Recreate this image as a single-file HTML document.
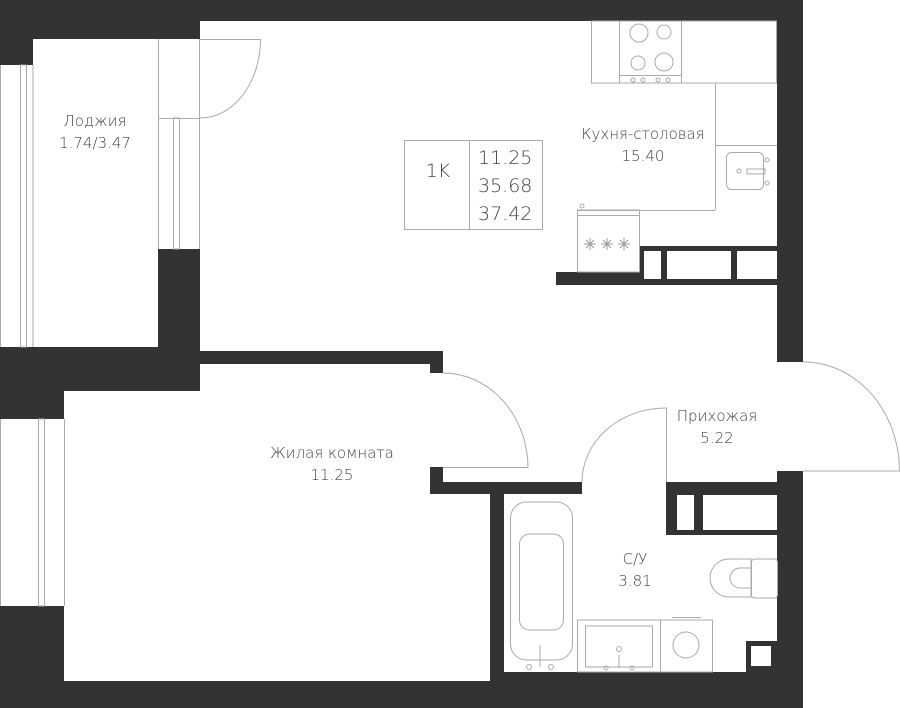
<!DOCTYPE html>
<html><head><meta charset="utf-8"><style>
html,body{margin:0;padding:0;background:#fff;}
svg{display:block;}
text{font-family:"DejaVu Sans","Liberation Sans",sans-serif;fill:#444;font-weight:300;}
</style></head><body>
<svg width="900" height="708" viewBox="0 0 900 708" xmlns="http://www.w3.org/2000/svg">
<g fill="#333">
<rect x="0" y="0" width="803" height="21"/>
<rect x="0" y="0" width="33" height="65"/>
<rect x="33" y="0" width="167" height="39"/>
<rect x="777" y="0" width="26" height="362"/>
<rect x="777" y="471" width="26" height="237"/>
<rect x="158" y="249" width="42" height="100"/>
<rect x="0" y="347" width="200" height="44"/>
<rect x="0" y="347" width="64" height="72"/>
<rect x="200" y="351" width="243" height="13"/>
<rect x="430" y="351" width="13" height="22"/>
<rect x="0" y="606" width="64" height="102"/>
<rect x="0" y="681" width="803" height="27"/>
<rect x="490" y="672" width="313" height="36"/>
<rect x="430" y="467" width="13" height="27"/>
<rect x="430" y="482" width="152" height="12"/>
<rect x="490" y="482" width="14" height="226"/>
<rect x="666" y="482" width="111" height="13"/>
<rect x="666" y="482" width="11" height="53"/>
<rect x="666" y="530" width="111" height="5"/>
<rect x="694" y="494" width="9" height="40"/>
<rect x="746" y="641" width="31" height="31"/>
<rect x="556" y="272" width="221" height="13"/>
<rect x="639" y="246" width="138" height="39"/>
</g>
<g fill="#fff">
<rect x="644" y="251" width="17" height="28"/>
<rect x="667" y="251" width="64" height="28"/>
<rect x="737" y="251" width="40" height="28"/>
<rect x="751" y="646" width="20" height="20"/>
</g>
<g fill="none" stroke="#aaa" stroke-width="1">
<line x1="0.5" y1="65" x2="0.5" y2="347"/>
<rect x="20.5" y="65" width="6" height="282"/>
<line x1="33" y1="65" x2="33" y2="347"/>
<rect x="173.5" y="118" width="6" height="131"/>
<line x1="158.5" y1="39" x2="158.5" y2="249"/>
<line x1="199.5" y1="39" x2="199.5" y2="249"/>
<line x1="158" y1="118.5" x2="200" y2="118.5"/>
<path d="M200 39.5 H260.5 A60 79 0 0 1 200 118"/>
<line x1="0.5" y1="419" x2="0.5" y2="606"/>
<rect x="38.5" y="419" width="6" height="187"/>
<line x1="64.5" y1="419" x2="64.5" y2="606"/>
<path d="M443 373 A85 95 0 0 1 528 467.5 H443"/>
<path d="M666.5 482 V408 A84 74 0 0 0 582 482"/>
<path d="M803 362 A96 109 0 0 1 899.5 471 H803"/>
<rect x="591.5" y="21" width="185" height="62"/>
<rect x="619.5" y="21" width="62" height="62"/>
<line x1="619" y1="75.5" x2="681" y2="75.5"/>
<circle cx="639" cy="33" r="9"/><circle cx="664" cy="32" r="7"/>
<circle cx="638" cy="63" r="7"/><circle cx="664" cy="62" r="9"/>
<circle cx="633" cy="80" r="2"/><circle cx="643" cy="80" r="2"/><circle cx="658" cy="80" r="2"/><circle cx="668" cy="80" r="2"/>
<line x1="715.5" y1="83" x2="715.5" y2="210"/>
<line x1="577" y1="210.5" x2="715" y2="210.5"/>
<line x1="715" y1="145.5" x2="777" y2="145.5"/>
<rect x="726.5" y="152.5" width="37" height="37" rx="5"/>
<circle cx="739" cy="171" r="2"/><path d="M747 169 H765 V174 H747 Z"/>
<circle cx="767" cy="160" r="2"/><circle cx="767" cy="183" r="2"/>
<rect x="577.5" y="210" width="62" height="62"/>
<line x1="577" y1="215.5" x2="639" y2="215.5"/>
<circle cx="582" cy="206" r="2"/>
<rect x="510.5" y="502" width="62" height="158" rx="16"/>
<rect x="519.5" y="534" width="44" height="96" rx="10"/>
<line x1="540" y1="645" x2="540" y2="667"/>
<circle cx="529" cy="667" r="2.5"/><circle cx="551" cy="667" r="2.5"/>
<rect x="577.5" y="620" width="83" height="52"/>
<rect x="585.5" y="626" width="67" height="41"/>
<circle cx="619" cy="649" r="2.5"/><line x1="619" y1="655" x2="619" y2="668"/>
<circle cx="606" cy="668" r="2"/><circle cx="632" cy="668" r="2"/>
<rect x="660.5" y="620" width="52" height="52"/>
<line x1="672" y1="617.5" x2="701" y2="617.5"/>
<circle cx="686" cy="645" r="13"/>
<path d="M710 578 A19 19 0 0 1 729 559 H751 V597 H729 A19 19 0 0 1 710 578 Z"/>
<path d="M751 568 H740 A10 10 0 0 0 740 588 H751"/>
<rect x="751.5" y="559" width="26" height="39" rx="3"/>
<rect x="404.5" y="140.5" width="138" height="89"/>
<line x1="469.5" y1="140" x2="469.5" y2="230"/>
</g>
<g stroke="#999" stroke-width="1">
<path d="M590 238 v12 M584 244 h12 M586 240 l8 8 M594 240 l-8 8"/>
<path d="M607 238 v12 M601 244 h12 M603 240 l8 8 M611 240 l-8 8"/>
<path d="M624 238 v12 M618 244 h12 M620 240 l8 8 M628 240 l-8 8"/>
</g>
<g font-size="15" text-anchor="middle">
<text x="95" y="126">Лоджия</text>
<text x="95" y="148">1.74/3.47</text>
<text x="643" y="139">Кухня-столовая</text>
<text x="643" y="161">15.40</text>
<text x="332" y="458">Жилая комната</text>
<text x="332" y="480">11.25</text>
<text x="717" y="421">Прихожая</text>
<text x="717" y="443">5.22</text>
<text x="635" y="564">С/У</text>
<text x="635" y="586">3.81</text>
</g>
<g font-size="19">
<text x="438" y="177" text-anchor="middle">1K</text>
<text x="478" y="164">11.25</text>
<text x="478" y="192">35.68</text>
<text x="478" y="220">37.42</text>
</g>
</svg>
</body></html>
